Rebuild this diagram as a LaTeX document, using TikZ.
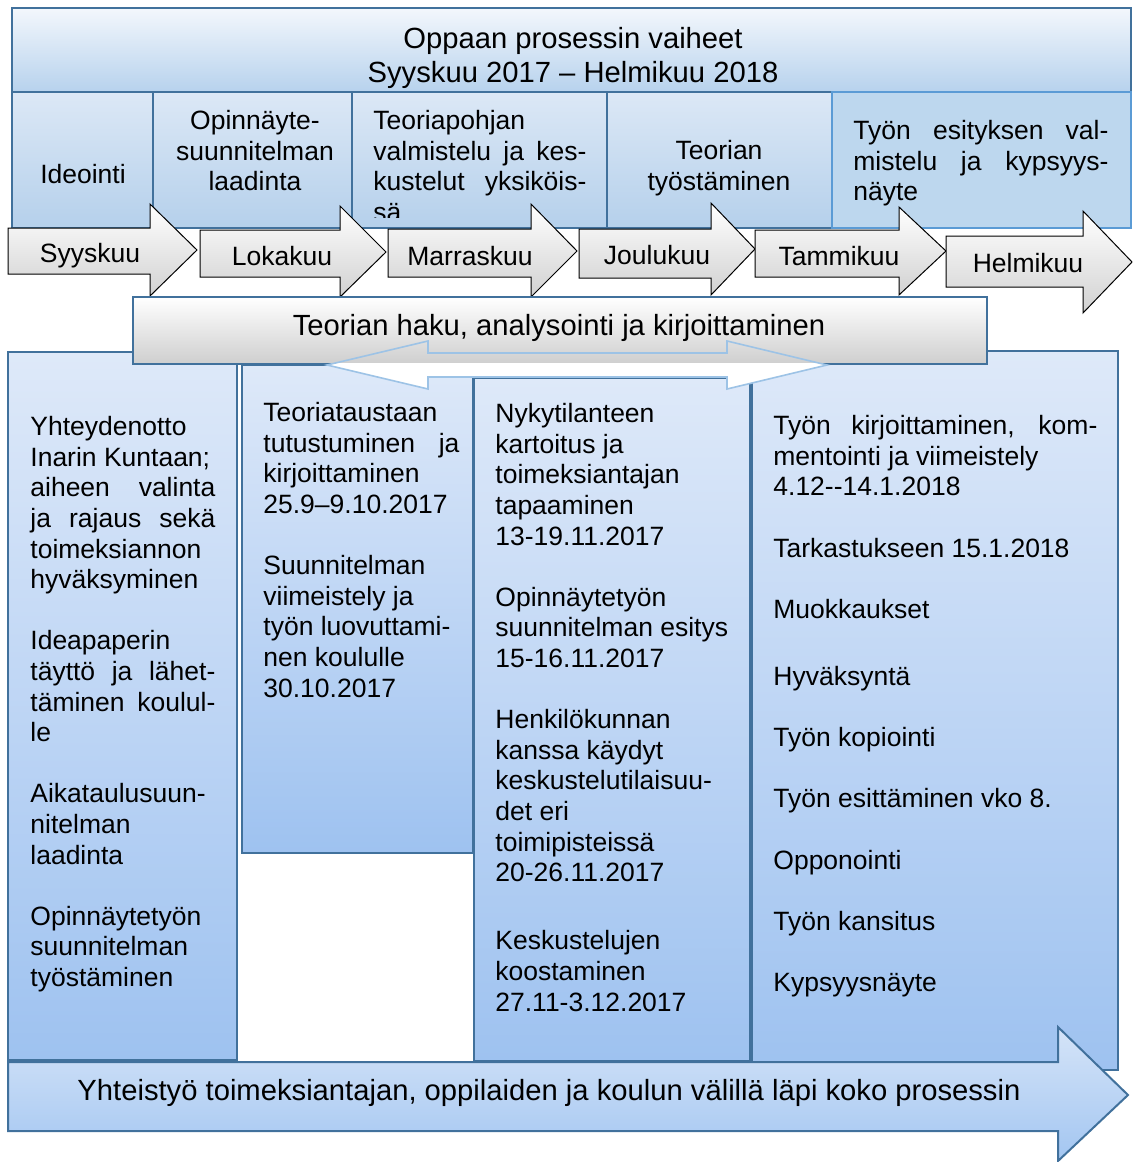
\documentclass[tikz,border=0pt]{standalone}
\usepackage{fontspec}
\setmainfont{Liberation Sans}
\usepackage{xcolor}

\definecolor{boxblue}{HTML}{41719C}
\definecolor{lineblue}{HTML}{5B9BD5}
\definecolor{arrowblue}{HTML}{9DC3E6}
\definecolor{headtop}{HTML}{F3F7FC}
\definecolor{headbot}{HTML}{B7D2ED}
\definecolor{phasetop}{HTML}{DCE8F6}
\definecolor{phasebot}{HTML}{B5D0EB}
\definecolor{phaseflat}{HTML}{BDD7EE}
\definecolor{coltop}{HTML}{DEE9F9}
\definecolor{colbot}{HTML}{9EC2F0}
\definecolor{cooptop}{HTML}{D5E4F8}
\definecolor{coopbot}{HTML}{A3C6F1}

\begin{document}
\begin{tikzpicture}[
    x=0.5pt, y=-0.5pt,
    txt/.style={font=\fontsize{13.25}{15.3}\selectfont, inner sep=0pt, align=left, anchor=north west},
    bigtxt/.style={font=\fontsize{14.6}{16.8}\selectfont, inner sep=0pt, align=center},
    headbox/.style={draw=boxblue, line width=1pt, top color=headtop, bottom color=headbot},
    phasebox/.style={draw=boxblue, line width=1pt, top color=phasetop, bottom color=phasebot},
    lastphase/.style={draw=lineblue, line width=1pt, fill=phaseflat},
    monthbox/.style={draw=black, line width=0.5pt, top color=white, bottom color=black!18},
    theorybox/.style={draw=boxblue, line width=1pt, top color=white, bottom color=black!19},
    colbox/.style={draw=boxblue, line width=1pt, top color=coltop, bottom color=colbot},
    coopbox/.style={draw=boxblue, line width=1pt, top color=cooptop, bottom color=coopbot},
    bothways/.style={draw=arrowblue, line width=0.8pt}
]
    \useasboundingbox (0,0) rectangle (1133,1162);

    % Title
    \path[headbox] (12,8) rectangle (1131,92);
    \node[bigtxt, anchor=north] (title) at (573,27) {Oppaan prosessin vaiheet\\Syyskuu 2017 – Helmikuu 2018};

    % Phases
    \path[phasebox] (12,92) rectangle (153,228);
    \path[phasebox] (153,92) rectangle (352,228);
    \path[phasebox] (352,92) rectangle (607,228);
    \path[phasebox] (607,92) rectangle (832,228);
    \path[lastphase] (832,92) rectangle (1131,228);
    \node[txt, anchor=center] (ideointi) at (83,174) {Ideointi};
    \node[txt, anchor=north, align=center] (laadinta) at (255,110) {Opinnäyte-\\suunnitelman\\laadinta};
    \begin{scope}
        \clip (352,92) rectangle (607,217);
        \node[txt] (teoriapohja) at (373,110) {Teoriapohjan\\\makebox[106.5pt][s]{valmistelu ja kes-}\\\makebox[106.5pt][s]{kustelut yksiköis-}\\sä};
    \end{scope}
    \node[txt, anchor=north, align=center] (tyostaminen) at (719,140) {Teorian\\työstäminen};
    \node[txt] (esitys) at (853,120) {\makebox[127.5pt][s]{Työn esityksen val-}\\\makebox[127.5pt][s]{mistelu ja kypsyys-}\\näyte};

    % Months
    \path[monthbox] (8,228) -- (150,228) -- (150,204) -- (197,250) -- (150,296) -- (150,274) -- (8,274) -- cycle;
    \path[monthbox] (200,230) -- (340,230) -- (340,206) -- (386,252) -- (340,297) -- (340,277) -- (200,277) -- cycle;
    \path[monthbox] (388,229) -- (531,229) -- (531,204) -- (577,251) -- (531,297) -- (531,277) -- (388,277) -- cycle;
    \path[monthbox] (579,229) -- (711,229) -- (711,203) -- (755,249) -- (711,295) -- (711,278) -- (579,278) -- cycle;
    \path[monthbox] (755,230) -- (899,230) -- (899,207) -- (946,251) -- (899,295) -- (899,277) -- (755,277) -- cycle;
    \path[monthbox] (946,236) -- (1083,236) -- (1083,211) -- (1132,262) -- (1083,313) -- (1083,287) -- (946,287) -- cycle;
    \node[txt, anchor=base] (syys) at (90,262) {Syyskuu};
    \node[txt, anchor=base] (loka) at (282,265) {Lokakuu};
    \node[txt, anchor=base] (marras) at (470,265) {Marraskuu};
    \node[txt, anchor=base] (joulu) at (657,264) {Joulukuu};
    \node[txt, anchor=base] (tammi) at (839,265) {Tammikuu};
    \node[txt, anchor=base] (helmi) at (1028,272) {Helmikuu};

    % Columns
    \path[colbox] (8,352) rectangle (237,1060);
    \path[colbox] (242,365) rectangle (473,853);
    \path[colbox] (474,378) rectangle (750,1061);
    \path[colbox] (752,351) rectangle (1118,1070);

    % Theory search band with two-way arrow
    \path[theorybox] (133,297) rectangle (987,364);
    \begin{scope}
        \clip (0,363) rectangle (1133,400);
        \fill[white] (327,365) -- (428,341) -- (428,353) -- (727,353) -- (727,341) -- (827,365)
            -- (727,389) -- (727,377) -- (428,377) -- (428,389) -- cycle;
    \end{scope}
    \path[bothways] (327,365) -- (428,341) -- (428,353) -- (727,353) -- (727,341) -- (827,365)
        -- (727,389) -- (727,377) -- (428,377) -- (428,389) -- cycle;
    \node[bigtxt, anchor=base] (haku) at (559,335) {Teorian haku, analysointi ja kirjoittaminen};

    % Column texts
    \node[txt] (yhteydenotto) at (30,416) {Yhteydenotto\\Inarin Kuntaan;\\\makebox[92.5pt][s]{aiheen valinta}\\\makebox[92.5pt][s]{ja rajaus sekä}\\toimeksiannon\\hyväksyminen\\[15.3pt]Ideapaperin\\\makebox[92.5pt][s]{täyttö ja lähet-}\\\makebox[92.5pt][s]{täminen koulul-}\\le\\[15.3pt]Aikataulusuun-\\nitelman\\laadinta\\[15.3pt]Opinnäytetyön\\suunnitelman\\työstäminen};
    \node[txt] (teoriatausta) at (263,402) {Teoriataustaan\\\makebox[98pt][s]{tutustuminen ja}\\kirjoittaminen\\25.9–9.10.2017\\[15.3pt]Suunnitelman\\viimeistely ja\\työn luovuttami-\\nen koululle\\30.10.2017};
    \node[txt] (kartoitus) at (495,403) {Nykytilanteen\\kartoitus ja\\toimeksiantajan\\tapaaminen\\13-19.11.2017\\[15.3pt]Opinnäytetyön\\suunnitelman esitys\\15-16.11.2017\\[15.3pt]Henkilökunnan\\kanssa käydyt\\keskustelutilaisuu-\\det eri\\toimipisteissä\\20-26.11.2017\\[18.8pt]Keskustelujen\\koostaminen\\27.11-3.12.2017};
    \node[txt] (kirjoitus) at (773,415) {\makebox[162pt][s]{Työn kirjoittaminen, kom-}\\mentointi ja viimeistely\\4.12-{}-14.1.2018\\[15.3pt]Tarkastukseen 15.1.2018\\[15.3pt]Muokkaukset\\[18.3pt]Hyväksyntä\\[15.3pt]Työn kopiointi\\[15.3pt]Työn esittäminen vko 8.\\[15.3pt]Opponointi\\[15.3pt]Työn kansitus\\[15.3pt]Kypsyysnäyte};

    % Cooperation band
    \path[coopbox] (8,1062) -- (1058,1062) -- (1058,1027) -- (1128,1095) -- (1058,1161) -- (1058,1131) -- (8,1131) -- cycle;
    \node[bigtxt, anchor=base] (yhteistyo) at (549,1100) {Yhteistyö toimeksiantajan, oppilaiden ja koulun välillä läpi koko prosessin};
\end{tikzpicture}
\end{document}
